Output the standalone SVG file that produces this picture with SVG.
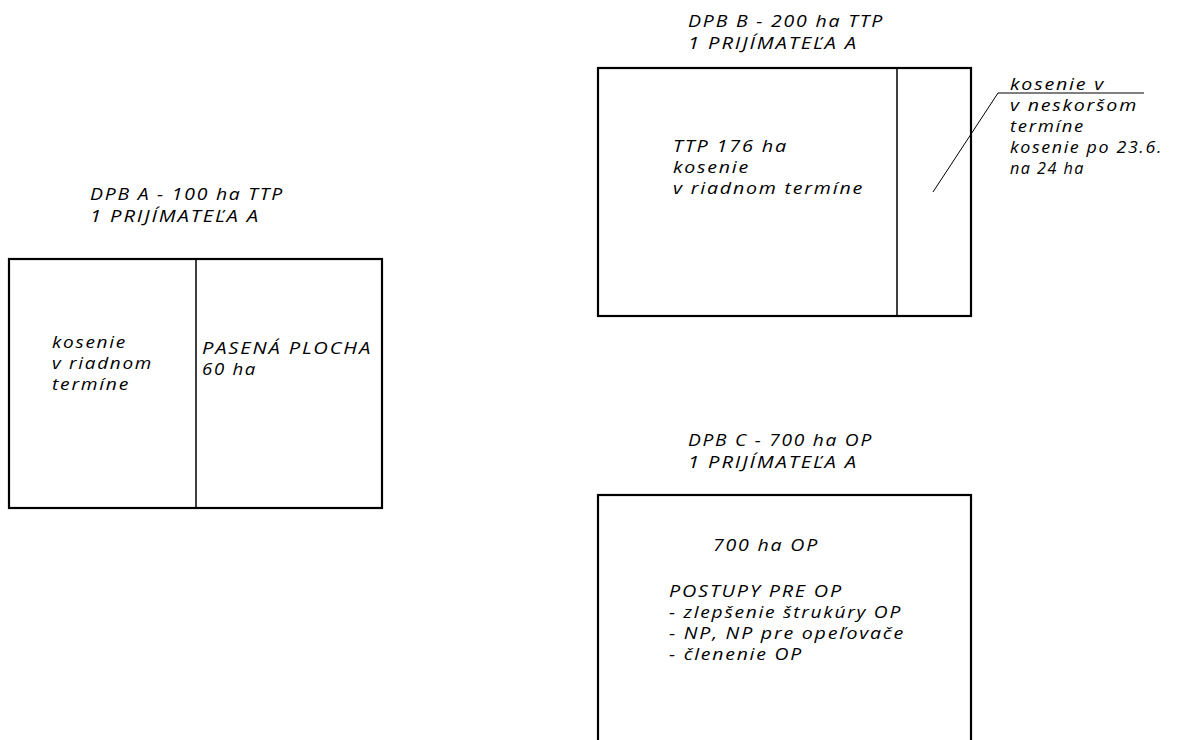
<svg xmlns="http://www.w3.org/2000/svg" width="1179" height="740" viewBox="0 0 1179 740">
<style>
text{font-family:"Open Sans","DejaVu Sans",sans-serif;font-style:italic;font-size:16.5px;fill:#000;letter-spacing:1.5px}
.box{fill:none;stroke:#000;stroke-width:2.2}
.div{stroke:#000;stroke-width:1.5}
.lead{stroke:#000;stroke-width:1;fill:none}
</style>
<rect width="1179" height="740" fill="#fff"/>
<g id="dpbA">
<text x="90" y="200" textLength="194" lengthAdjust="spacingAndGlyphs">DPB A - 100 ha TTP</text>
<text x="90" y="222" textLength="170" lengthAdjust="spacingAndGlyphs">1 PRIJÍMATEĽA A</text>
<rect class="box" x="9" y="259" width="373" height="249"/>
<line class="div" x1="196" y1="259" x2="196" y2="508"/>
<text x="52" y="348" textLength="75" lengthAdjust="spacingAndGlyphs">kosenie</text>
<text x="52" y="369" textLength="101" lengthAdjust="spacingAndGlyphs">v riadnom</text>
<text x="52" y="390" textLength="78" lengthAdjust="spacingAndGlyphs">termíne</text>
<text x="202" y="354" textLength="170" lengthAdjust="spacingAndGlyphs">PASENÁ PLOCHA</text>
<text x="202" y="375" textLength="55" lengthAdjust="spacingAndGlyphs">60 ha</text>
</g>
<g id="dpbB">
<text x="688" y="27" textLength="196" lengthAdjust="spacingAndGlyphs">DPB B - 200 ha TTP</text>
<text x="688" y="49" textLength="170" lengthAdjust="spacingAndGlyphs">1 PRIJÍMATEĽA A</text>
<rect class="box" x="598" y="68" width="373" height="248"/>
<line class="div" x1="897" y1="68" x2="897" y2="316"/>
<text x="673" y="152" textLength="115" lengthAdjust="spacingAndGlyphs">TTP 176 ha</text>
<text x="673" y="173" textLength="77" lengthAdjust="spacingAndGlyphs">kosenie</text>
<text x="673" y="194" textLength="191" lengthAdjust="spacingAndGlyphs">v riadnom termíne</text>
</g>
<g id="note">
<text x="1010" y="90" textLength="95" lengthAdjust="spacingAndGlyphs">kosenie v</text>
<text x="1010" y="111" textLength="128" lengthAdjust="spacingAndGlyphs">v neskoršom</text>
<text x="1010" y="132" textLength="75" lengthAdjust="spacingAndGlyphs">termíne</text>
<text x="1010" y="153" textLength="153" lengthAdjust="spacingAndGlyphs">kosenie po 23.6.</text>
<text x="1010" y="174" textLength="75" lengthAdjust="spacingAndGlyphs">na 24 ha</text>
</g>
<g id="dpbC">
<text x="688" y="446" textLength="185" lengthAdjust="spacingAndGlyphs">DPB C - 700 ha OP</text>
<text x="688" y="468" textLength="170" lengthAdjust="spacingAndGlyphs">1 PRIJÍMATEĽA A</text>
<rect class="box" x="598" y="495" width="373" height="260"/>
<text x="713" y="551" textLength="106" lengthAdjust="spacingAndGlyphs">700 ha OP</text>
<text x="669" y="597" textLength="174" lengthAdjust="spacingAndGlyphs">POSTUPY PRE OP</text>
<text x="669" y="618" textLength="233" lengthAdjust="spacingAndGlyphs">- zlepšenie štrukúry OP</text>
<text x="669" y="639" textLength="236" lengthAdjust="spacingAndGlyphs">- NP, NP pre opeľovače</text>
<text x="669" y="660" textLength="134" lengthAdjust="spacingAndGlyphs">- členenie OP</text>
</g>
<g id="connectors">
<polyline class="lead" points="933,192 998,93 1144,93"/>
</g>
</svg>
